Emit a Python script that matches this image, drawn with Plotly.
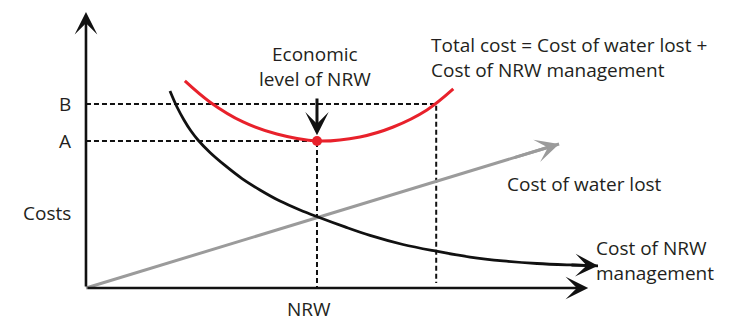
import plotly.graph_objects as go

# conceptual data space (NRW level vs cost)
red_x = [2.14, 2.68, 3.40, 4.13, 5.00, 5.93, 6.65, 7.38, 7.95]
red_y = [14.38, 12.92, 11.53, 10.69, 10.21, 10.49, 11.18, 12.36, 13.82]
black_x = [1.818, 1.970, 2.121, 2.273, 2.424, 2.684, 3.009, 3.377, 3.766, 4.199, 4.632,
           5.022, 5.606, 6.147, 6.861, 7.554, 8.312, 9.026, 9.762, 10.476, 11.082]
black_y = [13.68, 12.57, 11.67, 10.90, 10.28, 9.41, 8.51, 7.60, 6.81, 6.04, 5.42,
           4.93, 4.24, 3.65, 3.02, 2.57, 2.15, 1.88, 1.70, 1.60, 1.54]
gray_x = [0.0, 10.24]
gray_y = [0.0, 10.0]
level_A = 10.21
level_B = 12.78
x_opt = 5.0
x_B = 7.58
x_axis_end = 10.87
y_axis_end = 19.17

RED = "#e8212b"
BLACK = "#111111"
GRAY = "#9b9b9b"
TXT = "#231f20"
FONT = "Open Sans"
FS = 19

fig = go.Figure()

dash = "5px,3px"
fig.add_trace(go.Scatter(x=[0, x_B, x_B], y=[level_B, level_B, 0.35], mode="lines",
                         line=dict(color=BLACK, width=2, dash=dash), hoverinfo="skip"))
fig.add_trace(go.Scatter(x=[0, x_opt, x_opt], y=[level_A, level_A, 0], mode="lines",
                         line=dict(color=BLACK, width=2, dash=dash), hoverinfo="skip"))
fig.add_trace(go.Scatter(x=gray_x, y=gray_y, mode="lines",
                         line=dict(color=GRAY, width=3), hoverinfo="skip"))
fig.add_trace(go.Scatter(x=black_x, y=black_y, mode="lines", line_shape="spline",
                         line=dict(color=BLACK, width=2.8, smoothing=1.0), hoverinfo="skip"))
fig.add_trace(go.Scatter(x=red_x, y=red_y, mode="lines", line_shape="spline",
                         line=dict(color=RED, width=3, smoothing=1.0), hoverinfo="skip"))
fig.add_trace(go.Scatter(x=[x_opt], y=[level_A], mode="markers",
                         marker=dict(color=RED, size=10), hoverinfo="skip"))

def arrow(x0, y0, x1, y1, color, width, size=1.1):
    fig.add_annotation(x=x1, y=y1, ax=x0, ay=y0, xref="x", yref="y", axref="x", ayref="y",
                       text="", showarrow=True, arrowhead=3, arrowsize=size,
                       arrowwidth=width, arrowcolor=color, standoff=0, startstandoff=0)

# axes
arrow(0, 0, 0, y_axis_end, BLACK, 2.6, 1.45)
arrow(0, 0, x_axis_end, 0, BLACK, 2.6, 1.45)
# curve arrow tips
arrow(gray_x[1] - 1.0, gray_y[1] - 0.977, gray_x[1], gray_y[1], GRAY, 3, 1.3)
arrow(black_x[-2], black_y[-2], black_x[-1], black_y[-1], BLACK, 2.8, 1.35)
# economic level arrow
arrow(x_opt, 13.26, x_opt, 10.6, BLACK, 3, 1.3)

def label(x, y, text, xanchor="center", align="center"):
    fig.add_annotation(x=x, y=y, xref="x", yref="y", text=text, showarrow=False,
                       xanchor=xanchor, yanchor="middle", align=align,
                       font=dict(family=FONT, size=FS, color=TXT))

label(-0.28, level_B, "B", xanchor="right")
label(-0.28, level_A, "A", xanchor="right")
label(-0.28, 5.21, "Costs", xanchor="right")
label(4.82, -1.46, "NRW")
label(4.96, 15.35, "Economic<br>level of NRW")
label(7.42, 16.0, "Total cost = Cost of water lost +<br>Cost of NRW management", xanchor="left", align="left")
label(9.07, 7.22, "Cost of water lost", xanchor="left")
label(11.0, 1.91, "Cost of NRW<br>management", xanchor="left", align="left")

fig.update_layout(
    width=747, height=332, autosize=False,
    margin=dict(l=0, r=0, t=0, b=0),
    paper_bgcolor="white", plot_bgcolor="white",
    showlegend=False,
    xaxis=dict(range=[-1.861, 14.307], visible=False, fixedrange=True),
    yaxis=dict(range=[-3.056, 20.0], visible=False, fixedrange=True),
)

fig.write_html("out.html")
